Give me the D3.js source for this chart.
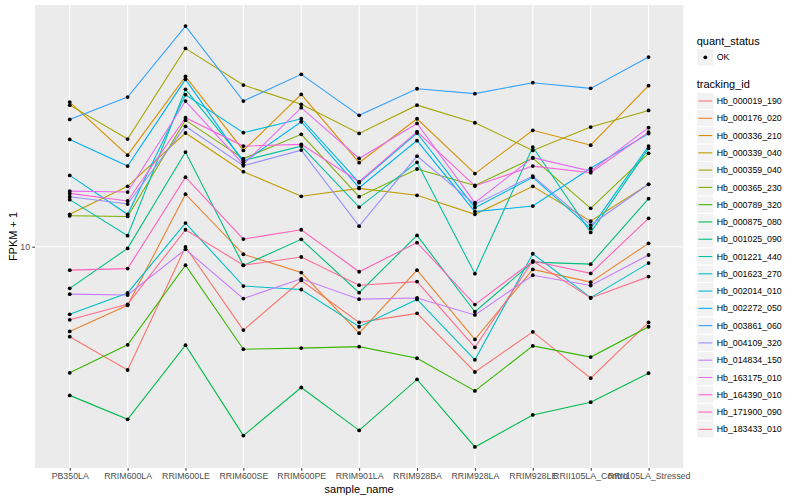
<!DOCTYPE html>
<html><head><meta charset="utf-8">
<script src="https://cdn.jsdelivr.net/npm/d3@7"></script>
<style>body{margin:0;background:#fff}</style>
</head><body>
<svg id="c" width="800" height="500"></svg>
<script>
const categories = ["PB350LA","RRIM600LA","RRIM600LE","RRIM600SE","RRIM600PE","RRIM901LA","RRIM928BA","RRIM928LA","RRIM928LE","RRII105LA_Control","RRII105LA_Stressed"];
const trackingIds = ["Hb_000019_190","Hb_000176_020","Hb_000336_210","Hb_000339_040","Hb_000359_040","Hb_000365_230","Hb_000789_320","Hb_000875_080","Hb_001025_090","Hb_001221_440","Hb_001623_270","Hb_002014_010","Hb_002272_050","Hb_003861_060","Hb_004109_320","Hb_014834_150","Hb_163175_010","Hb_164390_010","Hb_171900_090","Hb_183433_010"];
const quantStatus = ["OK"];
const yTicks = [10];

// FPKM + 1 per sample, one array per tracking_id
const Hb_000019_190 = [6.88, 5.99, 9.99, 7.07, 8.69, 7.30, 7.58, 5.94, 7.02, 5.79, 7.30];
const Hb_000176_020 = [7.03, 7.84, 12.44, 9.69, 8.98, 6.98, 9.07, 6.80, 9.10, 8.63, 10.14];
const Hb_000336_210 = [18.24, 14.63, 20.30, 14.92, 18.83, 14.18, 17.02, 13.55, 16.22, 15.25, 19.53];
const Hb_000339_040 = [11.44, 12.85, 16.04, 13.66, 12.33, 12.74, 12.38, 11.44, 12.85, 11.12, 12.96];
const Hb_000359_040 = [18.01, 15.64, 22.80, 19.58, 18.07, 16.01, 18.01, 16.74, 14.92, 16.44, 17.62];
const Hb_000365_230 = [11.37, 11.34, 16.92, 14.42, 15.95, 12.31, 13.81, 12.90, 14.45, 11.73, 14.74];
const Hb_000789_320 = [5.92, 6.65, 9.26, 6.53, 6.56, 6.60, 6.29, 5.49, 6.62, 6.32, 7.17];
const Hb_000875_080 = [5.39, 4.88, 6.64, 4.56, 5.57, 4.66, 5.76, 4.35, 4.97, 5.24, 5.91];
const Hb_001025_090 = [8.41, 9.93, 14.82, 9.25, 10.31, 8.26, 10.48, 7.63, 9.38, 9.30, 12.21];
const Hb_001221_440 = [12.16, 10.47, 19.23, 14.31, 15.19, 11.79, 14.20, 8.94, 15.13, 10.61, 15.05];
const Hb_001623_270 = [7.55, 8.25, 11.03, 8.49, 8.37, 7.17, 8.03, 6.25, 9.71, 8.09, 9.34];
const Hb_002014_010 = [13.45, 11.44, 18.81, 16.06, 17.02, 13.05, 16.04, 11.76, 13.34, 10.79, 15.19];
const Hb_002272_050 = [15.62, 13.98, 20.05, 14.20, 16.81, 12.78, 15.54, 11.57, 11.84, 13.85, 16.00];
const Hb_003861_060 = [16.97, 18.62, 25.02, 18.32, 20.47, 17.26, 19.28, 18.89, 19.77, 19.31, 21.99];
const Hb_004109_320 = [12.31, 11.94, 16.49, 14.00, 14.94, 10.89, 14.57, 11.92, 13.41, 10.94, 12.96];
const Hb_014834_150 = [8.21, 8.18, 9.89, 8.06, 8.75, 8.04, 8.08, 7.53, 8.88, 8.51, 9.66];
const Hb_163175_010 = [12.60, 12.55, 18.32, 14.08, 17.82, 14.43, 16.69, 12.01, 14.48, 13.69, 16.40];
const Hb_164390_010 = [12.48, 12.09, 17.09, 15.19, 15.30, 13.10, 16.13, 12.87, 13.98, 13.60, 16.10];
const Hb_171900_090 = [9.07, 9.13, 13.35, 10.32, 10.73, 9.01, 10.17, 7.86, 9.42, 8.95, 11.25];
const Hb_183433_010 = [7.38, 7.87, 10.73, 9.26, 9.58, 8.52, 8.65, 6.58, 9.42, 8.08, 8.83];

const seriesValues = [Hb_000019_190, Hb_000176_020, Hb_000336_210, Hb_000339_040, Hb_000359_040,
  Hb_000365_230, Hb_000789_320, Hb_000875_080, Hb_001025_090, Hb_001221_440, Hb_001623_270,
  Hb_002014_010, Hb_002272_050, Hb_003861_060, Hb_004109_320, Hb_014834_150, Hb_163175_010,
  Hb_164390_010, Hb_171900_090, Hb_183433_010];

const palette = ["#F8766D","#EA8331","#D89000","#C09B00","#A3A500","#7CAE00","#39B600","#00BB4E","#00BF7D","#00C1A3","#00BFC4","#00BAE0","#00B0F6","#35A2FF","#9590FF","#C77CFF","#E76BF3","#FA62DB","#FF62BC","#FF6C91"];

const W = 800, H = 500;
const panel = {left: 35, right: 683.3, top: 5, bottom: 468};
const font = "'Liberation Sans', Arial, Helvetica, sans-serif";
const svg = d3.select('#c').style('font-family', font);

svg.append('rect').attr('width', W).attr('height', H).attr('fill', '#fff');
svg.append('rect').attr('x', panel.left).attr('y', panel.top)
  .attr('width', panel.right - panel.left).attr('height', panel.bottom - panel.top)
  .attr('fill', '#EBEBEB');

const x = d3.scalePoint().domain(categories).range([panel.left, panel.right]).padding(0.6);
const all = seriesValues.flat();
const lo = Math.log10(d3.min(all)), hi = Math.log10(d3.max(all));
const ex = (hi - lo) * 0.05;
const y = d3.scaleLog().domain([Math.pow(10, lo - ex), Math.pow(10, hi + ex)]).range([panel.bottom, panel.top]);

// grid
const grid = svg.append('g');
grid.selectAll('line.v').data(categories).join('line')
  .attr('x1', d => x(d)).attr('x2', d => x(d))
  .attr('y1', panel.top).attr('y2', panel.bottom)
  .attr('stroke', '#fff').attr('stroke-width', 1.1);
grid.selectAll('line.h').data(yTicks).join('line')
  .attr('x1', panel.left).attr('x2', panel.right)
  .attr('y1', d => y(d)).attr('y2', d => y(d))
  .attr('stroke', '#fff').attr('stroke-width', 1.1);

// lines
const line = d3.line().x((d, i) => x(categories[i])).y(d => y(d));
const gl = svg.append('g');
seriesValues.forEach((vals, k) => {
  gl.append('path').attr('d', line(vals)).attr('fill', 'none')
    .attr('stroke', palette[k]).attr('stroke-width', 1.1);
});
// points
const gp = svg.append('g');
seriesValues.forEach(vals => {
  gp.selectAll(null).data(vals).join('circle')
    .attr('cx', (d, i) => x(categories[i])).attr('cy', d => y(d))
    .attr('r', 1.9).attr('fill', '#000');
});

// axes
const xAxis = svg.append('g').attr('transform', `translate(0,${panel.bottom})`)
  .call(d3.axisBottom(x).tickSize(2.75).tickPadding(2.2));
const yAxis = svg.append('g').attr('transform', `translate(${panel.left},0)`)
  .call(d3.axisLeft(y).tickValues(yTicks).tickFormat(d3.format('d')).tickSize(2.75).tickPadding(2.2));
[xAxis, yAxis].forEach(a => {
  a.select('.domain').remove();
  a.selectAll('.tick line').attr('stroke', '#333333').attr('stroke-width', 1);
  a.selectAll('.tick text').attr('fill', '#4D4D4D').style('font-size', '8.8px').style('font-family', font);
});

svg.append('text').attr('x', (panel.left + panel.right) / 2).attr('y', 493)
  .attr('text-anchor', 'middle').style('font-size', '11px').attr('fill', '#000').text('sample_name');
svg.append('text').attr('transform', `translate(17,${(panel.top + panel.bottom) / 2}) rotate(-90)`)
  .attr('text-anchor', 'middle').style('font-size', '11px').attr('fill', '#000').text('FPKM + 1');

// legend
const lx = 696.7, key = 17.28;
const lg = svg.append('g');
lg.append('text').attr('x', lx).attr('y', 44.6).style('font-size', '11px').text('quant_status');
quantStatus.forEach((q, i) => {
  const cy = 57.3 + i * key;
  lg.append('rect').attr('x', lx).attr('y', cy - key / 2).attr('width', key).attr('height', key)
    .attr('fill', '#F2F2F2').attr('stroke', '#fff');
  lg.append('circle').attr('cx', lx + key / 2).attr('cy', cy).attr('r', 1.9).attr('fill', '#000');
  lg.append('text').attr('x', lx + key + 2.7).attr('y', cy + 3.1).style('font-size', '8.8px').text(q);
});
lg.append('text').attr('x', lx).attr('y', 88.2).style('font-size', '11px').text('tracking_id');
trackingIds.forEach((t, i) => {
  const cy = 101 + i * key;
  lg.append('rect').attr('x', lx).attr('y', cy - key / 2).attr('width', key).attr('height', key)
    .attr('fill', '#F2F2F2').attr('stroke', '#fff');
  lg.append('line').attr('x1', lx + 1.7).attr('x2', lx + key - 1.7).attr('y1', cy).attr('y2', cy)
    .attr('stroke', palette[i]).attr('stroke-width', 1.1);
  lg.append('text').attr('x', lx + key + 2.7).attr('y', cy + 3.1).style('font-size', '8.8px').text(t);
});
</script>
</body></html>
